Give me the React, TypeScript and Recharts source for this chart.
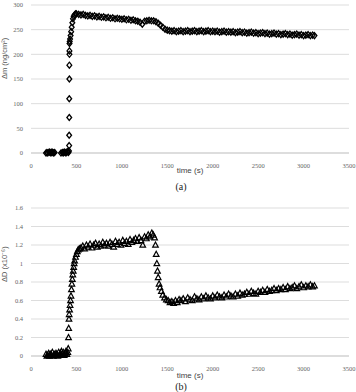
import { ScatterChart, Scatter, XAxis, YAxis, CartesianGrid } from 'recharts';

// panel (a): mass change vs time
const timeA = [
  165, 175, 185, 200, 210, 220, 230, 240, 250, 260,
  330, 345, 355, 365, 375, 385, 395, 405, 412, 418,
  420, 420, 421, 421, 422, 422, 423, 423, 424, 426,
  430, 436, 442, 448, 455, 462, 470, 480, 490,
  500, 525, 550, 575, 600, 625, 650, 675, 700, 725, 750, 775, 800, 825, 850, 875, 900, 925, 950, 975,
  1000, 1025, 1050, 1075, 1100, 1125, 1150, 1175, 1200, 1225, 1250, 1275, 1300, 1325, 1350, 1375,
  1400, 1425, 1450, 1475, 1500, 1525, 1550, 1575, 1600, 1625, 1650, 1675, 1700, 1725, 1750, 1775,
  1800, 1825, 1850, 1875, 1900, 1925, 1950, 1975, 2000, 2025, 2050, 2075, 2100, 2125, 2150, 2175,
  2200, 2225, 2250, 2275, 2300, 2325, 2350, 2375, 2400, 2425, 2450, 2475, 2500, 2525, 2550, 2575,
  2600, 2625, 2650, 2675, 2700, 2725, 2750, 2775, 2800, 2825, 2850, 2875, 2900, 2925, 2950, 2975,
  3000, 3025, 3050, 3075, 3100, 3120,
];
const massA = [
  0, 1, 0, 2, 1, 0, 2, 1, 0, 1,
  0, 1, 0, 2, 1, 0, 2, 3, 1, 4,
  15, 36, 72, 110, 150, 178, 200, 207, 222, 226,
  231, 238, 246, 255, 264, 272, 277, 280, 282,
  282, 281, 280, 281, 279, 278, 279, 277, 278, 276, 277, 275, 276, 274, 275, 273, 274, 272, 273, 272,
  271, 272, 270, 271, 269, 270, 268, 267, 265, 261, 267, 268, 269, 268, 268, 266,
  263, 259, 255, 251, 249, 248, 247, 248, 246, 247, 248, 246, 247, 248, 246, 247,
  248, 246, 247, 248, 246, 247, 248, 246, 247, 246, 247, 245, 246, 247, 245, 246,
  245, 246, 244, 245, 246, 244, 245, 243, 244, 245, 243, 244, 242, 243, 244, 242,
  243, 241, 242, 243, 241, 242, 240, 241, 242, 240, 241, 239, 240, 241, 239, 240,
  238, 239, 240, 238, 239, 238,
];

// panel (b): dissipation change vs time
const timeB = [
  165, 175, 185, 195, 205, 215, 225, 235, 245, 255, 265, 275, 285, 295, 305, 315, 325, 335, 345, 355,
  365, 375, 385, 395, 405,
  410, 413, 415, 418, 420, 425, 430, 435, 440, 445, 450, 455, 460, 465, 470, 475, 480, 490, 500, 510,
  520, 535,
  550, 570, 590, 610, 630, 650, 670, 690, 710, 730, 750, 770, 790, 810, 830, 850, 870, 890, 910, 930,
  950, 970, 990, 1010, 1030, 1050, 1070, 1090, 1110, 1130, 1150, 1170, 1190, 1210, 1230, 1250, 1270,
  1290, 1310, 1330, 1345,
  1360, 1370, 1378, 1385, 1392, 1400, 1410, 1420, 1435, 1450, 1470, 1490, 1510, 1530, 1550, 1570,
  1590, 1610, 1630,
  1650, 1675, 1700, 1725, 1750, 1775, 1800, 1825, 1850, 1875, 1900, 1925, 1950, 1975, 2000, 2025,
  2050, 2075, 2100, 2125, 2150, 2175, 2200, 2225, 2250, 2275, 2300, 2325, 2350, 2375, 2400, 2425,
  2450, 2475, 2500, 2525, 2550, 2575, 2600, 2625, 2650, 2675, 2700, 2725, 2750, 2775, 2800, 2825,
  2850, 2875, 2900, 2925, 2950, 2975, 3000, 3025, 3050, 3075, 3100, 3120,
];
const dissB = [
  0.02, 0, 0.01, 0.03, 0, 0.02, 0.01, 0.04, 0, 0.02, 0.01, 0.03, 0.02, 0, 0.04, 0.01, 0.03, 0.05, 0.02, 0.04,
  0.01, 0.03, 0.05, 0.02, 0.04,
  0.08, 0.2, 0.3, 0.4, 0.45, 0.5, 0.55, 0.6, 0.65, 0.72, 0.78, 0.83, 0.88, 0.92, 0.96, 1.0, 1.03, 1.07, 1.1, 1.13,
  1.15, 1.16,
  1.17, 1.19, 1.16, 1.2, 1.18, 1.21, 1.17, 1.2, 1.22, 1.18, 1.21, 1.19, 1.23, 1.2, 1.22, 1.19, 1.23, 1.21, 1.18, 1.24,
  1.21, 1.23, 1.2, 1.25, 1.22, 1.24, 1.21, 1.26, 1.23, 1.25, 1.27, 1.24, 1.28, 1.25, 1.2, 1.29, 1.27,
  1.31, 1.29, 1.33, 1.31,
  1.28, 1.2, 1.1, 1.0, 0.92, 0.85, 0.78, 0.74, 0.7, 0.66, 0.63, 0.61, 0.6, 0.58, 0.59, 0.57,
  0.6, 0.58, 0.61,
  0.6, 0.62, 0.59, 0.63, 0.61, 0.6, 0.64, 0.62, 0.61, 0.64, 0.62, 0.65, 0.63, 0.62, 0.65, 0.63,
  0.66, 0.64, 0.63, 0.66, 0.64, 0.67, 0.65, 0.64, 0.67, 0.65, 0.68, 0.66, 0.67, 0.69, 0.67, 0.7,
  0.68, 0.67, 0.7, 0.69, 0.71, 0.69, 0.72, 0.7, 0.71, 0.73, 0.71, 0.73, 0.72, 0.74, 0.72, 0.75,
  0.73, 0.74, 0.76, 0.73, 0.75, 0.77, 0.74, 0.76, 0.75, 0.77, 0.75, 0.76,
];

const timeTicks = [0, 500, 1000, 1500, 2000, 2500, 3000, 3500];
const massTicks = [0, 50, 100, 150, 200, 250, 300];
const dissTicks = [0, 0.2, 0.4, 0.6, 0.8, 1, 1.2, 1.4, 1.6];

const dataA = timeA.map((t, i) => ({ t, v: massA[i] }));
const dataB = timeB.map((t, i) => ({ t, v: dissB[i] }));

const tickStyle = { fill: '#666', fontSize: 6.5, fontFamily: '"Liberation Serif", serif' };
const labelStyle = { fill: '#555', fontSize: 7.5, fontFamily: '"Liberation Sans", sans-serif' };

const Diamond = ({ cx, cy }: any) => (
  <polygon
    points={`${cx},${cy - 3} ${cx + 2.4},${cy} ${cx},${cy + 3} ${cx - 2.4},${cy}`}
    fill="none" stroke="#000" strokeWidth={1.3}
  />
);

const Triangle = ({ cx, cy }: any) => (
  <polygon
    points={`${cx},${cy - 3} ${cx + 2.8},${cy + 2.2} ${cx - 2.8},${cy + 2.2}`}
    fill="none" stroke="#000" strokeWidth={1.2}
  />
);

function Panel({ data, ticks, max, label, shape }: any) {
  return (
    <ScatterChart width={356} height={200} margin={{ top: 5, right: 7, bottom: 0, left: 0 }}>
      <CartesianGrid stroke="#ddd" vertical={false} />
      <XAxis
        type="number" dataKey="t" domain={[0, 3500]} ticks={timeTicks}
        tick={tickStyle} tickLine={false} axisLine={{ stroke: '#ccc' }}
        height={47} tickMargin={4} interval={0}
      />
      <YAxis
        type="number" dataKey="v" domain={[0, max]} ticks={ticks}
        tick={tickStyle} tickLine={false} axisLine={false} width={31} interval={0}
        label={{ value: label, angle: -90, position: 'insideLeft', offset: 4, style: labelStyle }}
      />
      <Scatter data={data} shape={shape} isAnimationActive={false} />
    </ScatterChart>
  );
}

const capStyle: any = {
  position: 'absolute', width: 356, textAlign: 'center', lineHeight: 1,
  fontFamily: '"Liberation Serif", serif', color: '#222',
};
const axisTitle: any = { ...capStyle, left: 12, fontSize: 8, color: '#444', fontFamily: '"Liberation Sans", sans-serif' };

export default function App() {
  return (
    <div style={{ position: 'absolute', left: 0, top: 0, width: 356, height: 392, background: '#fff', overflow: 'hidden' }}>
      <div style={{ position: 'absolute', left: 0, top: 0 }}>
        <Panel data={dataA} ticks={massTicks} max={300} label="Δm (ng/cm²)" shape={<Diamond />} />
      </div>
      <div style={{ ...axisTitle, top: 167 }}>time (s)</div>
      <div style={{ ...capStyle, left: 3, top: 182, fontSize: 10 }}>(a)</div>
      <div style={{ position: 'absolute', left: 0, top: 203 }}>
        <Panel data={dataB} ticks={dissTicks} max={1.6} label="ΔD (x10⁻⁶)" shape={<Triangle />} />
      </div>
      <div style={{ ...axisTitle, top: 372 }}>time (s)</div>
      <div style={{ ...capStyle, left: 3, top: 382, fontSize: 10 }}>(b)</div>
    </div>
  );
}
